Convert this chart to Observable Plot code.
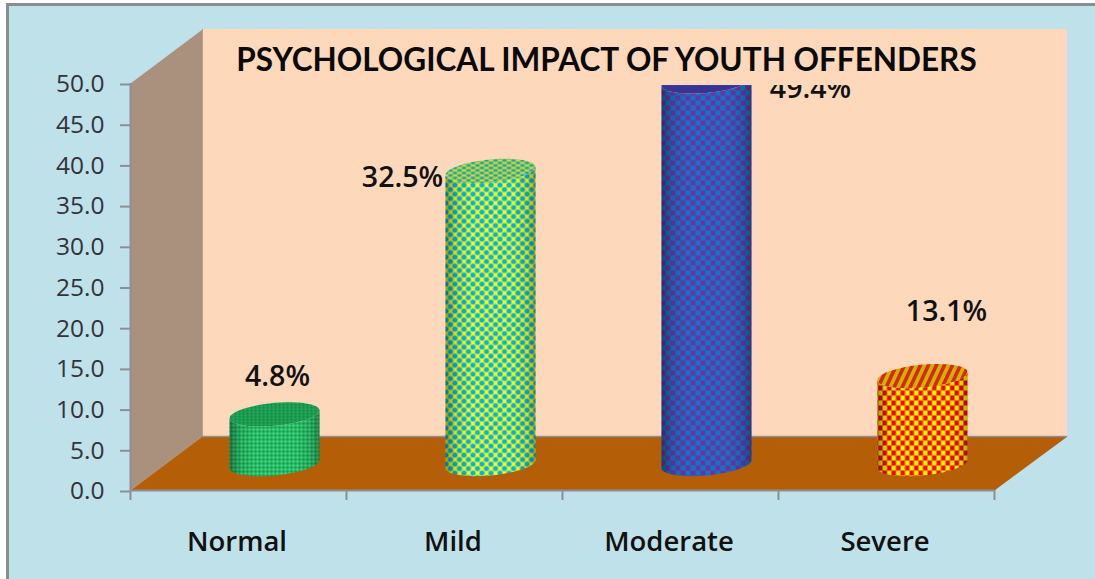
<!DOCTYPE html>
<html>
<head>
<meta charset="utf-8">
<script src="https://cdn.jsdelivr.net/npm/d3@7"></script>
<script src="https://cdn.jsdelivr.net/npm/@observablehq/plot@0.6"></script>
<style>
html,body{margin:0;padding:0;background:#fff;overflow:hidden;width:1095px;height:579px}
#panel{position:absolute;left:6px;top:3px;width:1200px;height:700px;background:#BFE1EA;border:3px solid #8C8C8C;box-sizing:border-box}
#chart{position:absolute;left:0;top:0}
svg{display:block;background:transparent!important}
</style>
</head>
<body>
<div id="panel"></div>
<div id="chart"></div>
<script>
const chartTitle = "PSYCHOLOGICAL IMPACT OF YOUTH OFFENDERS";
const categories = ["Normal", "Mild", "Moderate", "Severe"];
const percentLabels = [4.8, 32.5, 49.4, 13.1];
const drawnHeights = [6.1, 36, 47, 10.8];
const yTicks = [0, 5, 10, 15, 20, 25, 30, 35, 40, 45, 50];
const xTicks = [0, 1, 2, 3, 4];

const pxX = 216, pxY = 8.14;           // pixels per scale unit
const depthX = 73 / pxX, depthY = 54 / pxY;
const baseY = 26.5 / pxY;
const rx = 45, ry = 11.5, tilt = 4;
const midDepthX = 72 / pxX / 2;

const ell = (i, level, from, to) => d3.range(49).map(k => {
  const t = from + (to - from) * k / 48;
  return {
    x: i + 0.5 + midDepthX + rx * Math.cos(t) / pxX,
    y: level - (ry * Math.sin(t) - tilt * Math.cos(t)) / pxY
  };
});
const poly = (pts, fill) => Plot.line(pts, {x: "x", y: "y", fill, stroke: "none", curve: "linear"});

const fills = [
  {body: "url(#pGreen)", cap: "url(#cGreen)"},
  {body: "url(#pYellow)", cap: "url(#cYellow)"},
  {body: "url(#pBlue)", cap: "url(#cBlue)"},
  {body: "url(#pRed)", cap: "url(#cRed)"}
];

const defs = () => {
  const g = d3.create("svg:defs");
  g.html(`
  <pattern id="pGreen" width="4" height="4" patternUnits="userSpaceOnUse">
    <rect width="4" height="4" fill="#27B862"/><rect width="2" height="2" fill="#4BD98A"/><rect x="2" y="2" width="2" height="2" fill="#14A04E"/>
  </pattern>
  <pattern id="cGreen" width="4" height="3" patternUnits="userSpaceOnUse">
    <rect width="4" height="3" fill="#1C9A50"/><rect width="2" height="1.5" fill="#27AE60"/><rect x="2" y="1.5" width="2" height="1.5" fill="#128A44"/>
  </pattern>
  <pattern id="pYellow" width="9" height="9" patternUnits="userSpaceOnUse">
    <rect width="9" height="9" fill="#FFFF00"/><circle cx="0" cy="0" r="2.6" fill="#00B0F0"/><circle cx="9" cy="0" r="2.6" fill="#00B0F0"/><circle cx="0" cy="9" r="2.6" fill="#00B0F0"/><circle cx="9" cy="9" r="2.6" fill="#00B0F0"/><circle cx="4.5" cy="4.5" r="2.6" fill="#00B0F0"/>
  </pattern>
  <pattern id="cYellow" width="9" height="5" patternUnits="userSpaceOnUse">
    <rect width="9" height="5" fill="#E2DE08"/><ellipse cx="0" cy="0" rx="2.5" ry="1.4" fill="#12A2D0"/><ellipse cx="9" cy="0" rx="2.5" ry="1.4" fill="#12A2D0"/><ellipse cx="0" cy="5" rx="2.5" ry="1.4" fill="#12A2D0"/><ellipse cx="9" cy="5" rx="2.5" ry="1.4" fill="#12A2D0"/><ellipse cx="4.5" cy="2.5" rx="2.5" ry="1.4" fill="#12A2D0"/>
  </pattern>
  <pattern id="pBlue" width="10" height="10" patternUnits="userSpaceOnUse">
    <rect width="10" height="10" fill="#0878C8"/><rect width="5" height="5" fill="#7030A0"/><rect x="5" y="5" width="5" height="5" fill="#7030A0"/>
  </pattern>
  <pattern id="cBlue" width="10" height="6" patternUnits="userSpaceOnUse">
    <rect width="10" height="6" fill="#1F3F9A"/><rect width="5" height="3" fill="#502A88"/><rect x="5" y="3" width="5" height="3" fill="#502A88"/>
  </pattern>
  <pattern id="pRed" width="9" height="10" patternUnits="userSpaceOnUse">
    <rect width="9" height="10" fill="#FFFF00"/><rect width="4.5" height="5" fill="#FF0000"/><rect x="4.5" y="5" width="4.5" height="5" fill="#FF0000"/>
  </pattern>
  <pattern id="cRed" width="8" height="6" patternUnits="userSpaceOnUse" patternTransform="skewX(-25)">
    <rect width="8" height="6" fill="#D0B000"/><rect width="4" height="6" fill="#D42A00"/>
  </pattern>
  <linearGradient id="shade" x1="0" x2="1" y1="0" y2="0">
    <stop offset="0" stop-color="#000" stop-opacity=".36"/>
    <stop offset=".12" stop-color="#000" stop-opacity=".1"/>
    <stop offset=".28" stop-color="#000" stop-opacity="0"/>
    <stop offset=".74" stop-color="#000" stop-opacity="0"/>
    <stop offset=".9" stop-color="#000" stop-opacity=".1"/>
    <stop offset="1" stop-color="#000" stop-opacity=".3"/>
  </linearGradient>`);
  return g.node();
};

const cylinders = categories.flatMap((c, i) => {
  const top = baseY + drawnHeights[i];
  const body = [...ell(i, baseY, 0, Math.PI), ...ell(i, top, Math.PI, 0)];
  const cap = ell(i, top, 0, 2 * Math.PI);
  return [poly(body, fills[i].body), poly(body, "url(#shade)"), poly(cap, fills[i].cap)];
});

const labelOffsets = [[3, -37], [-88, 7], [104, 7], [24, -64]];
const valueLabels = percentLabels.map((v, i) => Plot.text([`${v}%`], {
  x: i + 0.5 + midDepthX,
  y: baseY + drawnHeights[i],
  dx: labelOffsets[i][0],
  dy: labelOffsets[i][1],
  fontFamily: "Open Sans",
  fontWeight: 600,
  fontSize: 28.5,
  fill: "#111",
  lineAnchor: "middle"
}));

const axisColor = "#8E8E98";
const plot = Plot.plot({
  width: 1095,
  height: 579,
  marginLeft: 130,
  marginRight: 101,
  marginTop: 83,
  marginBottom: 89,
  x: {domain: [0, 4], axis: null},
  y: {domain: [0, 50], axis: null},
  style: {background: "transparent", overflow: "visible"},
  marks: [
    defs,
    // back wall
    Plot.rect([0], {x1: depthX, x2: 4 + depthX, y1: depthY, y2: 50 + depthY, fill: "#FDD8BB"}),
    // side wall
    poly([{x: 0, y: 0}, {x: 72 / pxX, y: depthY}, {x: 72 / pxX, y: 50 + depthY}, {x: 0, y: 50}], "#A9917D"),
    // floor
    poly([{x: 0, y: 0}, {x: 4, y: 0}, {x: 4 + depthX, y: depthY}, {x: 72 / pxX, y: depthY}], "#B45F08"),
    Plot.ruleY([depthY], {x1: 72 / pxX, x2: 4 + depthX, stroke: axisColor, strokeWidth: 1.5}),
    Plot.ruleX([72 / pxX], {y1: depthY, y2: 50 + depthY, stroke: "#B89F8B", strokeWidth: 1}),
    ...cylinders,
    ...valueLabels,
    // pale box behind the title, covering anything drawn up to it
    Plot.rect([0], {x1: 97 / pxX, x2: 870 / pxX, y1: 49.75, y2: 50 + depthY - 0.1, fill: "#FDD8BB"}),
    Plot.text([chartTitle], {
      x: 476 / pxX, y: 53, dy: 2,
      fontFamily: "Lato", fontWeight: 700, fontSize: 31.5, fill: "#0A0A0A", lineAnchor: "middle"
    }),
    Plot.axisY({
      ticks: yTicks, tickFormat: d => d.toFixed(1), tickSize: 10, tickPadding: 16, label: null,
      stroke: axisColor, fill: "#333338", strokeWidth: 2, fontFamily: "Open Sans", fontSize: 24.5, dy: 1
    }),
    Plot.axisX({ticks: xTicks, tickFormat: () => "", tickSize: 10, label: null, stroke: axisColor, strokeWidth: 2}),
    Plot.ruleX([0], {y1: 0, y2: 50, stroke: axisColor, strokeWidth: 2}),
    Plot.ruleY([0], {x1: 0, x2: 4, stroke: axisColor, strokeWidth: 2}),
    Plot.text(categories, {
      x: (d, i) => i + 0.5, y: 0, dx: -1.5, dy: 52,
      fontFamily: "Open Sans", fontWeight: 600, fontSize: 27.5, fill: "#111", lineAnchor: "middle"
    })
  ]
});
document.getElementById("chart").appendChild(plot);
</script>
</body>
</html>
